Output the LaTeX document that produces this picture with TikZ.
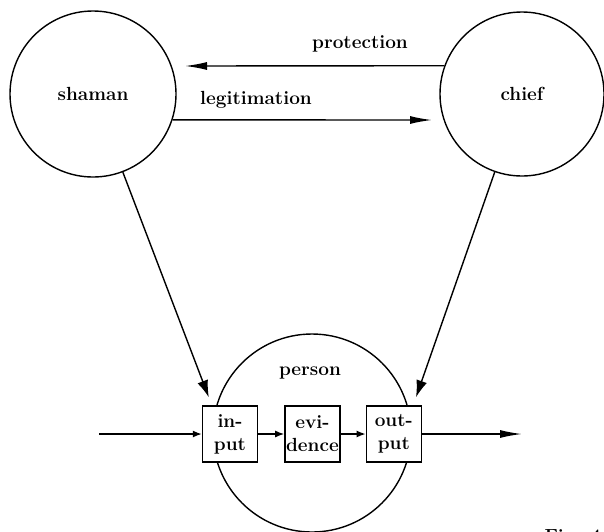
\documentclass[tikz,border=0pt]{standalone}
\usepackage{tikz}
\usetikzlibrary{arrows.meta,positioning}
\tikzset{
mycirc/.style={
  circle,
  draw=black,
  line width=1.4pt,
  font=\fontsize{19}{23}\selectfont\bfseries
  },
mybox/.style={
  rectangle,
  draw=black,
  fill=white,
  line width=1.4pt,
  minimum width=55pt,
  minimum height=56pt,
  inner sep=0pt,
  align=center,
  font=\fontsize{19}{23}\selectfont\bfseries
  },
mylbl/.style={
  font=\fontsize{19}{23}\selectfont\bfseries
  }
}
\tikzset{
  bigtip/.style={line width=1.4pt,-{Latex[length=22pt,width=8pt]}},
  midtip/.style={line width=1.4pt,-{Latex[length=17pt,width=11pt]}},
  smalltip/.style={line width=1.4pt,-{Latex[length=9pt,width=7pt]}}
}

\begin{document}
\begin{tikzpicture}[x=1pt,y=-1pt]
\useasboundingbox (0,0) rectangle (604,531);

\node[mycirc,minimum size=166pt] (shaman) at (93,94) {shaman};
\node[mycirc,minimum size=164pt] (chief) at (522,94) {chief};
\node[mycirc,minimum size=198pt] (person) at (312,433) {};
\node[mylbl] (personlbl) at (310,373) {person};

\node[mybox] (input) at (230,434) {in-\\put};
\node[mybox,right=26pt of input] (evidence) {evi-\\dence};
\node[mybox,right=25pt of evidence] (output) {out-\\put};

\node[mylbl] (protlbl) at (360,44) {protection};
\node[mylbl] (legitlbl) at (256,100) {legitimation};
\node[mylbl,anchor=north west] (figlbl) at (541,526) {Fig. 4};

\begin{scope}
\coordinate(end) at (185,66);
\draw[bigtip] (chief.160) -- (end);
\end{scope}

\begin{scope}
\coordinate(end) at (432,120);
\draw[bigtip] (shaman.-18) -- (end);
\end{scope}

\begin{scope}
\coordinate(end) at ([shift={(7,-8)}]input.north west);
\draw[midtip] (shaman) -- (end);
\end{scope}

\begin{scope}
\coordinate(end) at ([shift={(-6,-8)}]output.north east);
\draw[midtip] (chief) -- (end);
\end{scope}

\begin{scope}
\coordinate(start) at (99,434);
\coordinate(end) at (522,434);
\draw[smalltip] (start) -- (input);
\draw[smalltip] (input) -- (evidence);
\draw[smalltip] (evidence) -- (output);
\draw[bigtip] (output) -- (end);
\end{scope}

\end{tikzpicture}
\end{document}
